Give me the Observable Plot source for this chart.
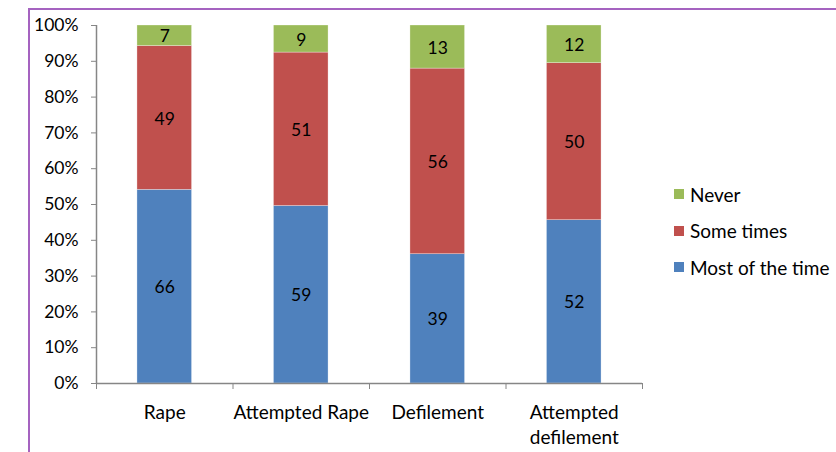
<!DOCTYPE html>
<html><head><meta charset="utf-8">
<script src="https://cdn.jsdelivr.net/npm/d3@7"></script>
<script src="https://cdn.jsdelivr.net/npm/@observablehq/plot@0.6"></script>
<style>
body{margin:0;background:#fff;font-family:Lato,"Open Sans",sans-serif;}
#wrap{position:relative;width:836px;height:452px;overflow:hidden;}
#frame{position:absolute;left:28px;top:8px;width:900px;height:600px;border-left:2px solid #a563c0;border-top:2px solid #a563c0;box-sizing:border-box;}
#chart{position:absolute;left:0;top:0;}
#legend{position:absolute;left:674px;top:176px;font-size:19px;color:#000;}
#legend div{height:36.5px;display:flex;align-items:center;margin:0;white-space:nowrap;}
#legend span.sw{display:inline-block;width:10px;height:10px;margin-right:6px;}
</style></head>
<body><div id="wrap"><div id="frame"></div><div id="chart"></div><div id="legend"></div></div>
<script>
const categories = ["Rape", "Attempted Rape", "Defilement", "Attempted defilement"];
const categoryLabels = ["Rape", "Attempted Rape", "Defilement", "Attempted\ndefilement"];
const series = ["Most of the time", "Some times", "Never"];
const mostOfTheTime = [66, 59, 39, 52];
const someTimes = [49, 51, 56, 50];
const never = [7, 9, 13, 12];
const colors = ["#4f81bd", "#c0504d", "#9bbb59"];
const yTicks = [0,10,20,30,40,50,60,70,80,90,100];

const valuesBySeries = [mostOfTheTime, someTimes, never];
const rows = [];
categories.forEach((c, i) => {
  const total = valuesBySeries.reduce((s, v) => s + v[i], 0);
  let acc = 0;
  series.forEach((s, j) => {
    const v = valuesBySeries[j][i];
    const y1 = acc / total * 100;
    acc += v;
    const y2 = acc / total * 100;
    rows.push({cat: c, idx: i, series: s, value: v, y1, y2});
  });
});

const plot = Plot.plot({
  width: 836, height: 452,
  marginLeft: 96, marginRight: 194, marginTop: 25, marginBottom: 69,
  style: {fontFamily: "Lato, 'Open Sans', sans-serif", fontSize: "18px", color: "#000", background: "transparent"},
  x: {domain: [0, 4], axis: null},
  y: {domain: [0, 100], axis: null},
  color: {domain: series, range: colors},
  marks: [
    Plot.rectY(rows, {x1: d => d.idx + 0.3, x2: d => d.idx + 0.7, y1: "y1", y2: "y2", fill: "series", stroke: "#ffffff", strokeOpacity: 0.5, strokeWidth: 0.6}),
    Plot.text(rows, {x: d => d.idx + 0.5, y: d => (d.y1 + d.y2) / 2, dy: 1, text: d => String(d.value), fontSize: 17.5, fill: "#000"}),
    Plot.axisY({ticks: yTicks, tickFormat: d => d + "%", tickSize: 5, tickPadding: 13, stroke: "#868686", fontSize: 17.5}),
    Plot.axisX({ticks: [0,1,2,3,4], tickFormat: () => "", tickSize: 6, stroke: "#868686"}),
    Plot.ruleX([0], {stroke: "#868686", strokeWidth: 1.5}),
    Plot.ruleY([0], {stroke: "#868686", strokeWidth: 1.5}),
    Plot.text(categoryLabels, {x: (d, i) => i + 0.5, y: 0, text: d => d, dy: 18, lineAnchor: "top", lineHeight: 1.3, fontSize: 19, fill: "#000"})
  ]
});
document.getElementById("chart").appendChild(plot);

const legend = document.getElementById("legend");
[2, 1, 0].forEach(j => {
  const d = document.createElement("div");
  d.innerHTML = `<span class="sw" style="background:${colors[j]}"></span>${series[j]}`;
  legend.appendChild(d);
});
</script></body></html>
